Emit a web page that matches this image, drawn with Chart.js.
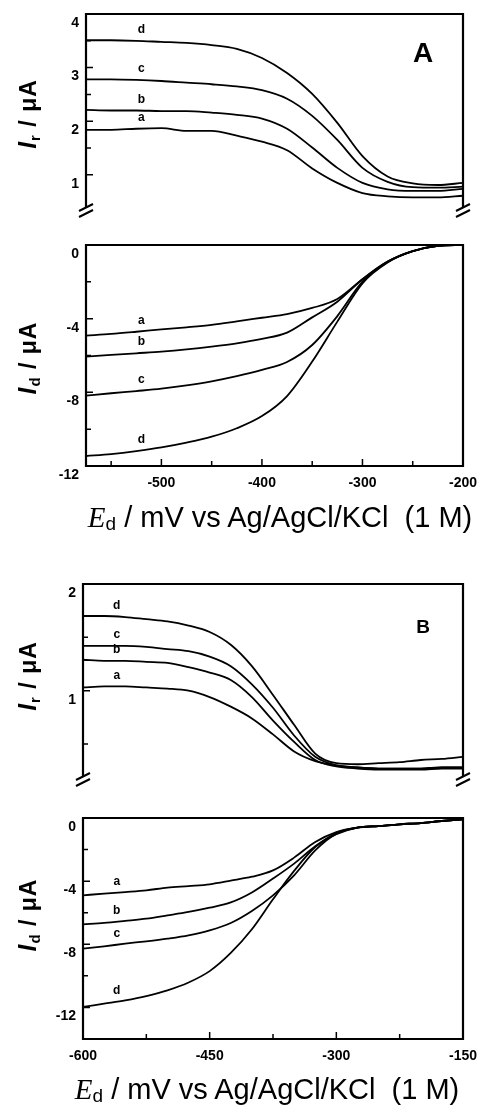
<!DOCTYPE html>
<html>
<head>
<meta charset="utf-8">
<script src="https://cdn.jsdelivr.net/npm/chart.js@4.4.0/dist/chart.umd.min.js"></script>
<style>
body { margin: 0; background: #fff; }
#wrap { position: relative; width: 481px; height: 1109px; overflow: hidden; font-family: "Liberation Sans", Arial, sans-serif; color: #000; }
canvas { position: absolute; left: 0; }
.ytitle { position: absolute; font-weight: bold; font-size: 23px; white-space: nowrap; transform: translate(-50%, -50%) rotate(-90deg); letter-spacing: 1px; }
.ytitle i { font-size: 25px; }
.ytitle sub { font-size: 15px; vertical-align: -4px; }
.xtitle { position: absolute; font-size: 29px; white-space: nowrap; transform: translate(-50%, -50%); }
.xtitle i { font-family: "Liberation Serif", "Times New Roman", serif; }
.xtitle sub { font-size: 19px; vertical-align: -3px; }
.panel { position: absolute; font-weight: bold; transform: translate(-50%, -50%); }
</style>
</head>
<body>
<div id="wrap">
  <canvas id="cAr" width="481" height="250" style="top:0px"></canvas>
  <canvas id="cAd" width="481" height="275" style="top:240px"></canvas>
  <canvas id="cBr" width="481" height="250" style="top:570px"></canvas>
  <canvas id="cBd" width="481" height="275" style="top:813px"></canvas>

  <div class="ytitle" style="left:28px;top:114px"><i>I</i><sub>r</sub> / &mu;A</div>
  <div class="ytitle" style="left:28px;top:358px"><i>I</i><sub>d</sub> / &mu;A</div>
  <div class="ytitle" style="left:28px;top:676px"><i>I</i><sub>r</sub> / &mu;A</div>
  <div class="ytitle" style="left:28px;top:915px"><i>I</i><sub>d</sub> / &mu;A</div>

  <div class="xtitle" style="left:280px;top:518px"><i>E</i><sub>d</sub> / mV vs Ag/AgCl/KCl&nbsp; (1 M)</div>
  <div class="xtitle" style="left:267px;top:1090px"><i>E</i><sub>d</sub> / mV vs Ag/AgCl/KCl&nbsp; (1 M)</div>

  <div class="panel" style="left:423px;top:53px;font-size:28px">A</div>
  <div class="panel" style="left:423px;top:627px;font-size:19px">B</div>
</div>

<script>
// panel A, potential axis (mV)
var xA = [-575, -550, -525, -500, -475, -450, -425, -400, -375, -350, -325, -300, -275, -250, -225, -200];
// I_r, panel A (uA)
var irA_a = [1.84, 1.84, 1.86, 1.87, 1.82, 1.82, 1.73, 1.62, 1.46, 1.12, 0.85, 0.66, 0.60, 0.58, 0.58, 0.61];
var irA_b = [2.21, 2.20, 2.20, 2.19, 2.19, 2.16, 2.12, 2.05, 1.86, 1.51, 1.13, 0.85, 0.73, 0.70, 0.70, 0.74];
var irA_c = [2.78, 2.78, 2.77, 2.75, 2.72, 2.69, 2.65, 2.58, 2.42, 2.10, 1.65, 1.13, 0.87, 0.77, 0.76, 0.78];
var irA_d = [3.51, 3.51, 3.50, 3.48, 3.46, 3.42, 3.35, 3.18, 2.90, 2.51, 1.97, 1.35, 0.97, 0.84, 0.81, 0.85];
// I_d, panel A (uA)
var idA_a = [-4.92, -4.83, -4.71, -4.58, -4.47, -4.34, -4.15, -3.95, -3.75, -3.42, -2.93, -1.86, -0.90, -0.33, -0.05, 0];
var idA_b = [-6.06, -5.97, -5.88, -5.79, -5.67, -5.52, -5.34, -5.10, -4.76, -3.93, -3.08, -1.86, -0.90, -0.33, -0.05, 0];
var idA_c = [-8.18, -8.05, -7.93, -7.80, -7.62, -7.40, -7.12, -6.78, -6.35, -5.43, -3.86, -1.99, -0.92, -0.33, -0.05, 0];
var idA_d = [-11.46, -11.35, -11.19, -10.99, -10.73, -10.41, -9.95, -9.29, -8.20, -6.33, -4.16, -2.08, -0.95, -0.34, -0.05, 0];

// panel B, potential axis (mV)
var xB = [-600, -575, -550, -525, -500, -475, -450, -425, -400, -375, -350, -325, -300, -275, -250, -225, -200, -175, -150];
var irB_a = [1.03, 1.04, 1.04, 1.03, 1.02, 1.00, 0.94, 0.85, 0.74, 0.59, 0.43, 0.34, 0.30, 0.28, 0.27, 0.27, 0.27, 0.28, 0.28];
var irB_b = [1.29, 1.28, 1.28, 1.27, 1.26, 1.22, 1.17, 1.10, 0.94, 0.72, 0.52, 0.35, 0.29, 0.27, 0.26, 0.26, 0.26, 0.27, 0.27];
var irB_c = [1.42, 1.42, 1.42, 1.41, 1.39, 1.37, 1.32, 1.23, 1.06, 0.84, 0.58, 0.38, 0.30, 0.28, 0.27, 0.27, 0.27, 0.28, 0.28];
var irB_d = [1.70, 1.70, 1.69, 1.67, 1.65, 1.61, 1.55, 1.43, 1.23, 0.96, 0.68, 0.41, 0.32, 0.31, 0.32, 0.33, 0.35, 0.36, 0.38];
// I_d, panel B (uA)
var idB_a = [-4.90, -4.79, -4.69, -4.58, -4.41, -4.31, -4.20, -3.97, -3.72, -3.32, -2.51, -1.52, -0.89, -0.61, -0.51, -0.40, -0.32, -0.19, -0.08];
var idB_b = [-6.74, -6.65, -6.52, -6.38, -6.17, -5.95, -5.68, -5.35, -4.72, -3.84, -2.89, -1.79, -0.95, -0.61, -0.51, -0.40, -0.32, -0.19, -0.08];
var idB_c = [-8.28, -8.13, -7.96, -7.81, -7.64, -7.43, -7.12, -6.65, -5.89, -4.90, -3.63, -2.05, -0.99, -0.61, -0.51, -0.40, -0.32, -0.19, -0.08];
var idB_d = [-11.97, -11.76, -11.55, -11.28, -10.92, -10.42, -9.70, -8.55, -7.05, -5.15, -3.35, -1.84, -1.03, -0.61, -0.51, -0.40, -0.32, -0.19, -0.08];

var curveNames = ['a', 'b', 'c', 'd'];

// tick marks and tick labels
var yTicksIrA = [1, 1.5, 2, 2.5, 3, 3.5, 4];
var yLabelsIrA = [1, 2, 3, 4];
var yTicksIdA = [-12, -10, -8, -6, -4, -2, 0];
var yLabelsIdA = [-12, -8, -4, 0];
var xTicksA = [-550, -500, -450, -400, -350, -300, -250, -200];
var xLabelsA = [-500, -400, -300, -200];
var yTicksIrB = [0.5, 1, 1.5, 2];
var yLabelsIrB = [1, 2];
var yTicksIdB = [-14, -12, -10, -8, -6, -4, -2, 0];
var yLabelsIdB = [-12, -8, -4, 0];
var xTicksB = [-600, -525, -450, -375, -300, -225, -150];
var xLabelsB = [-600, -450, -300, -150];

var tickFont = { family: 'Liberation Sans', weight: 'bold', size: 14 };

var framePlugin = {
    id: 'frame',
    afterDraw: function (chart, args, o) {
        var ctx = chart.ctx;
        var a = chart.chartArea;
        ctx.save();
        ctx.strokeStyle = '#000';
        ctx.lineWidth = 2.2;
        ctx.beginPath();
        if (o.full) {
            ctx.rect(a.left, a.top, a.right - a.left, a.bottom - a.top);
        } else {
            ctx.moveTo(a.left, a.bottom);
            ctx.lineTo(a.left, a.top);
            ctx.lineTo(a.right, a.top);
            ctx.lineTo(a.right, a.bottom);
        }
        ctx.stroke();

        // inward ticks
        ctx.lineWidth = 1.5;
        ctx.beginPath();
        var ys = chart.scales.y;
        ys.ticks.forEach(function (t) {
            var py = ys.getPixelForValue(t.value);
            var len = t.label !== '' ? 7 : 5;
            ctx.moveTo(a.left, py);
            ctx.lineTo(a.left + len, py);
        });
        if (o.full) {
            var xs = chart.scales.x;
            xs.ticks.forEach(function (t) {
                var px = xs.getPixelForValue(t.value);
                var len = t.label !== '' ? 7 : 5;
                ctx.moveTo(px, a.bottom);
                ctx.lineTo(px, a.bottom - len);
            });
        }
        ctx.stroke();

        // axis break marks
        if (o.breaks) {
            ctx.lineWidth = 2;
            ctx.beginPath();
            [a.left, a.right].forEach(function (x) {
                ctx.moveTo(x - 7, a.bottom + 4);
                ctx.lineTo(x + 7, a.bottom - 3);
                ctx.moveTo(x - 7, a.bottom + 10);
                ctx.lineTo(x + 7, a.bottom + 3);
            });
            ctx.stroke();
        }

        // curve letters
        ctx.fillStyle = '#000';
        ctx.font = 'bold 12px "Liberation Sans", Arial, sans-serif';
        ctx.textAlign = 'center';
        ctx.textBaseline = 'middle';
        var xsc = chart.scales.x;
        var lx = xsc.getPixelForValue(o.labelX);
        chart.data.datasets.forEach(function (ds, i) {
            var pts = chart.getDatasetMeta(i).data;
            var k = 0;
            while (k < pts.length - 2 && pts[k + 1].x < lx) k++;
            var f = (lx - pts[k].x) / (pts[k + 1].x - pts[k].x);
            var py = pts[k].y + f * (pts[k + 1].y - pts[k].y);
            ctx.fillText(ds.label, lx, py - 11);
        });
        ctx.restore();
    }
};

function makeSets(xs, series) {
    return series.map(function (arr, i) {
        return {
            label: curveNames[i],
            data: xs.map(function (x, j) { return { x: x, y: arr[j] }; }),
            borderColor: '#000',
            borderWidth: 1.8,
            pointRadius: 0,
            fill: false,
            cubicInterpolationMode: 'monotone'
        };
    });
}

function yScale(min, max, tickVals, labelVals) {
    return {
        type: 'linear',
        min: min,
        max: max,
        afterBuildTicks: function (s) {
            s.ticks = tickVals.map(function (v) { return { value: v }; });
        },
        afterFit: function (s) {
            s.width = 45;
            s.paddingTop = 0;
            s.paddingBottom = 0;
        },
        grid: { display: false, drawTicks: false },
        border: { display: false },
        ticks: {
            autoSkip: false,
            padding: 7,
            labelOffset: 9,
            color: '#000',
            font: tickFont,
            callback: function (v) { return labelVals.indexOf(v) >= 0 ? String(v) : ''; }
        }
    };
}

function xScale(min, max, tickVals, labelVals, show) {
    return {
        type: 'linear',
        display: show,
        min: min,
        max: max,
        afterBuildTicks: function (s) {
            s.ticks = tickVals.map(function (v) { return { value: v }; });
        },
        afterFit: function (s) {
            s.height = 30;
            s.paddingLeft = 0;
            s.paddingRight = 0;
        },
        grid: { display: false, drawTicks: false },
        border: { display: false },
        ticks: {
            autoSkip: false,
            maxRotation: 0,
            padding: 9,
            color: '#000',
            font: tickFont,
            callback: function (v) { return labelVals.indexOf(v) >= 0 ? String(v) : ''; }
        }
    };
}

function createGraph(id, sets, xs, ys, pad, frame) {
    var ctx = document.getElementById(id).getContext('2d');
    return new Chart(ctx, {
        type: 'line',
        data: { datasets: sets },
        options: {
            responsive: false,
            animation: false,
            layout: { padding: pad },
            plugins: { legend: { display: false }, tooltip: { enabled: false }, frame: frame },
            scales: { x: xs, y: ys }
        },
        plugins: [framePlugin]
    });
}

createGraph('cAr', makeSets(xA, [irA_a, irA_b, irA_c, irA_d]),
    xScale(-575, -200, xTicksA, xLabelsA, false),
    yScale(0.4, 4, yTicksIrA, yLabelsIrA),
    { top: 14, bottom: 13, left: 41, right: 18 },
    { full: false, breaks: true, labelX: -520 });

createGraph('cAd', makeSets(xA, [idA_a, idA_b, idA_c, idA_d]),
    xScale(-575, -200, xTicksA, xLabelsA, true),
    yScale(-12, 0, yTicksIdA, yLabelsIdA),
    { top: 5, bottom: 19, left: 41, right: 18 },
    { full: true, breaks: false, labelX: -520 });

createGraph('cBr', makeSets(xB, [irB_a, irB_b, irB_c, irB_d]),
    xScale(-600, -150, xTicksB, xLabelsB, false),
    yScale(0.2, 2, yTicksIrB, yLabelsIrB),
    { top: 14, bottom: 14, left: 38, right: 18 },
    { full: false, breaks: true, labelX: -560 });

createGraph('cBd', makeSets(xB, [idB_a, idB_b, idB_c, idB_d]),
    xScale(-600, -150, xTicksB, xLabelsB, true),
    yScale(-14, 0, yTicksIdB, yLabelsIdB),
    { top: 5, bottom: 19, left: 38, right: 18 },
    { full: true, breaks: false, labelX: -560 });
</script>
</body>
</html>
